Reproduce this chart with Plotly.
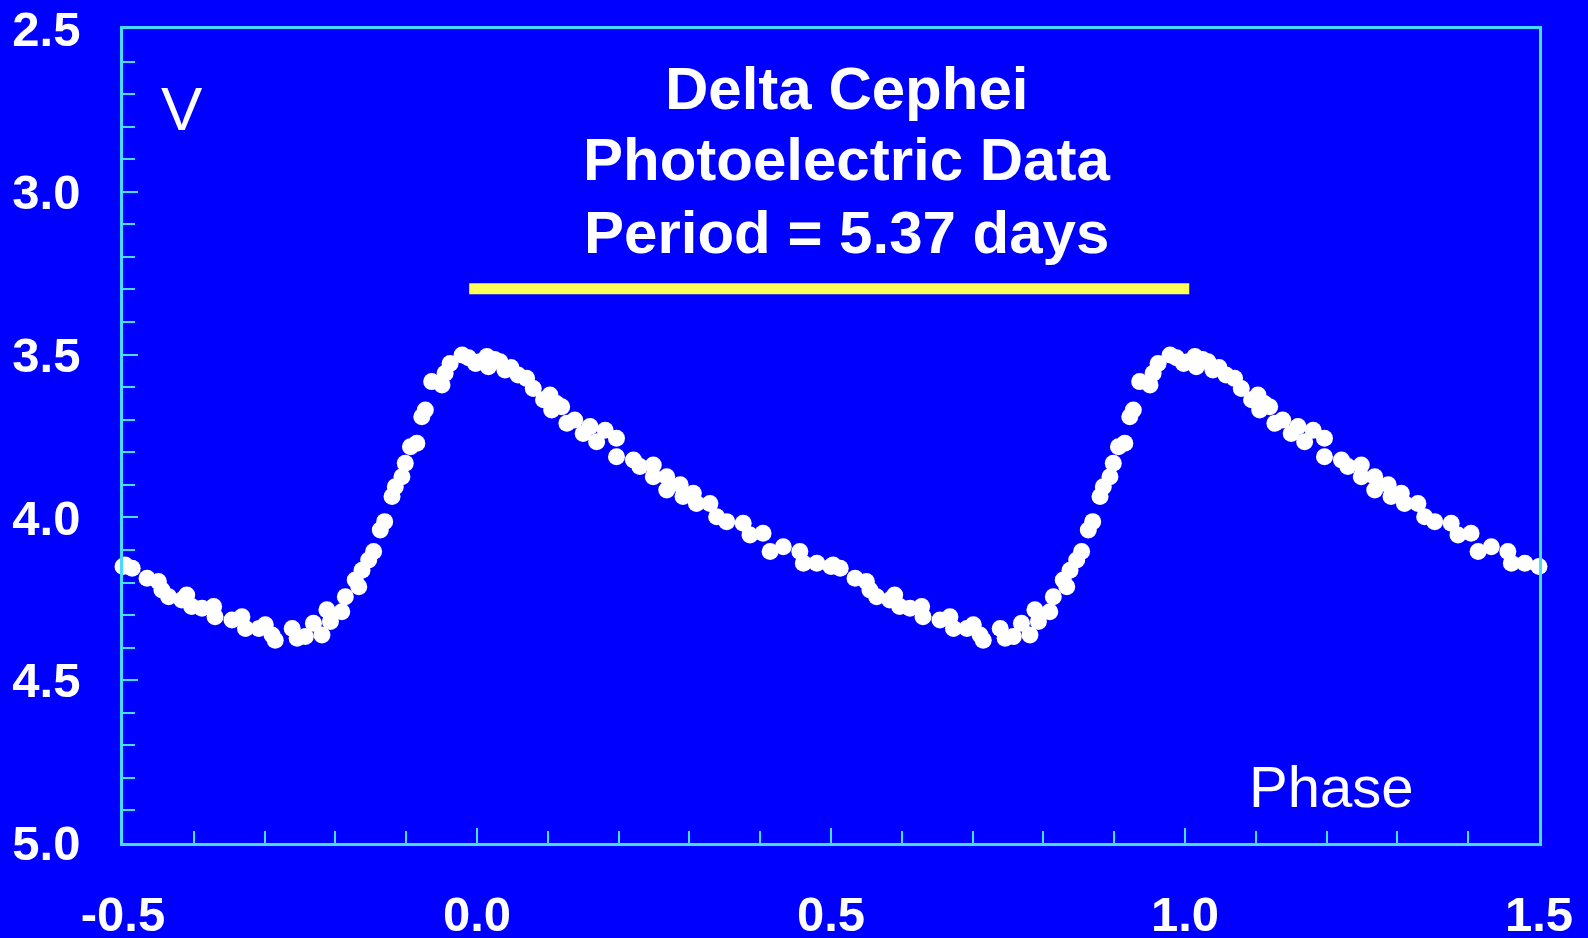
import plotly.graph_objects as go

# One pulsation cycle of Delta Cephei (phase in [0,1), V magnitude)
phase = [0.004, 0.014, 0.016, 0.025, 0.0325, 0.0395, 0.048, 0.058, 0.070, 0.0795,
         0.094, 0.103, 0.1055, 0.112, 0.1196, 0.127, 0.138, 0.150, 0.1596, 0.169,
         0.181, 0.197, 0.197, 0.221, 0.230, 0.249, 0.249, 0.268, 0.268, 0.287,
         0.291, 0.3055, 0.310, 0.329, 0.3385, 0.3527, 0.376, 0.3856, 0.404, 0.414,
         0.4326, 0.456, 0.461, 0.480, 0.500, 0.503, 0.513, 0.534, 0.550, 0.555,
         0.5645, 0.583, 0.590, 0.597, 0.6116, 0.628, 0.630, 0.654, 0.668, 0.673,
         0.692, 0.701, 0.7105, 0.715, 0.739, 0.746, 0.7575, 0.769, 0.781, 0.788,
         0.793, 0.809, 0.814, 0.828, 0.833, 0.8376, 0.847, 0.854, 0.8634, 0.8696,
         0.880, 0.8846, 0.894, 0.8987, 0.906, 0.915, 0.922, 0.927, 0.936, 0.9506,
         0.955, 0.962, 0.979, 0.988, 0.998]
vmag = [3.522, 3.506, 3.537, 3.515, 3.522, 3.547, 3.540, 3.563, 3.573, 3.604,
        3.639, 3.624, 3.670, 3.650, 3.660, 3.711, 3.701, 3.742, 3.721, 3.768,
        3.732, 3.757, 3.814, 3.824, 3.844, 3.839, 3.875, 3.875, 3.916, 3.900,
        3.936, 3.926, 3.957, 3.957, 3.998, 4.013, 4.018, 4.054, 4.049, 4.105,
        4.090, 4.105, 4.141, 4.141, 4.151, 4.146, 4.156, 4.187, 4.197, 4.223,
        4.244, 4.254, 4.238, 4.274, 4.279, 4.274, 4.305, 4.315, 4.305, 4.341,
        4.341, 4.330, 4.361, 4.377, 4.341, 4.371, 4.366, 4.325, 4.361, 4.284,
        4.320, 4.290, 4.244, 4.192, 4.213, 4.162, 4.131, 4.105, 4.039, 4.013,
        3.936, 3.906, 3.875, 3.834, 3.783, 3.772, 3.691, 3.670, 3.583, 3.593,
        3.557, 3.527, 3.501, 3.510, 3.527]

x_ticks = [-0.5, 0.0, 0.5, 1.0, 1.5]
x_ticktext = ["-0.5", "0.0", "0.5", "1.0", "1.5"]
y_ticks = [2.5, 3.0, 3.5, 4.0, 4.5, 5.0]
y_ticktext = ["2.5", "3.0", "3.5", "4.0", "4.5", "5.0"]
x_range = [-0.5, 1.5]
y_range = [5.0, 2.5]

title_lines = ["Delta Cephei", "Photoelectric Data", "Period = 5.37 days"]
title_line_y = [0.9275, 0.8397, 0.7501]   # paper positions of the three lines
period_bar = {"x0": -0.011, "x1": 1.006, "y": 3.298}

# Plot two cycles: each observation at phase, phase-1 and phase+1 where inside range
xs, ys = [], []
for p, v in zip(phase, vmag):
    for shift in (-1, 0, 1):
        xp = p + shift
        if x_range[0] - 1e-9 <= xp <= x_range[1] + 1e-9:
            xs.append(xp)
            ys.append(v)

BLUE = "#0000FF"
CYAN = "#44DDFF"
tickfont = dict(family="Liberation Sans, Arial, sans-serif", size=49, color="white", weight="bold")

fig = go.Figure()
fig.add_trace(go.Scatter(
    x=xs, y=ys, mode="markers",
    marker=dict(color="white", size=17, line=dict(width=0)),
    cliponaxis=False, showlegend=False, hoverinfo="skip",
))

fig.add_shape(type="line", xref="x", yref="y",
              x0=period_bar["x0"], x1=period_bar["x1"],
              y0=period_bar["y"], y1=period_bar["y"],
              line=dict(color="#FFFF5A", width=11))

annotations = [
    dict(text=t, xref="paper", yref="paper", x=0.5106, y=yy,
         xanchor="center", yanchor="middle", showarrow=False,
         font=dict(family="Liberation Sans, Arial, sans-serif", size=60,
                   color="white", weight="bold"))
    for t, yy in zip(title_lines, title_line_y)
]
annotations += [
    dict(text="V", xref="paper", yref="paper", x=0.0417, y=0.9023,
         xanchor="center", yanchor="middle", showarrow=False,
         font=dict(family="Liberation Sans, Arial, sans-serif", size=62, color="white")),
    dict(text="Phase", xref="paper", yref="paper", x=0.853, y=0.07,
         xanchor="center", yanchor="middle", showarrow=False,
         font=dict(family="Liberation Sans, Arial, sans-serif", size=58, color="white")),
]

fig.update_layout(
    width=1588, height=938,
    paper_bgcolor=BLUE, plot_bgcolor=BLUE,
    margin=dict(l=123, r=49, t=29, b=95, autoexpand=False),
    showlegend=False,
    xaxis=dict(
        range=x_range, tickmode="array", tickvals=x_ticks, ticktext=x_ticktext,
        ticks="inside", ticklen=15, tickwidth=2, tickcolor=CYAN,
        minor=dict(dtick=0.1, tick0=0, ticks="inside", ticklen=12, tickwidth=2, tickcolor=CYAN),
        showline=True, linecolor=CYAN, linewidth=2.5, mirror=True, automargin=False,
        showgrid=False, zeroline=False, tickfont=tickfont, ticklabelstandoff=26,
    ),
    yaxis=dict(
        range=y_range, tickmode="array", tickvals=y_ticks, ticktext=y_ticktext,
        ticks="inside", ticklen=15, tickwidth=2, tickcolor=CYAN,
        minor=dict(dtick=0.1, tick0=0, ticks="inside", ticklen=12, tickwidth=2, tickcolor=CYAN),
        showline=True, linecolor=CYAN, linewidth=2.5, mirror=True, automargin=False,
        showgrid=False, zeroline=False, tickfont=tickfont, ticklabelstandoff=30,
    ),
    annotations=annotations,
)

fig.write_html("out.html")
